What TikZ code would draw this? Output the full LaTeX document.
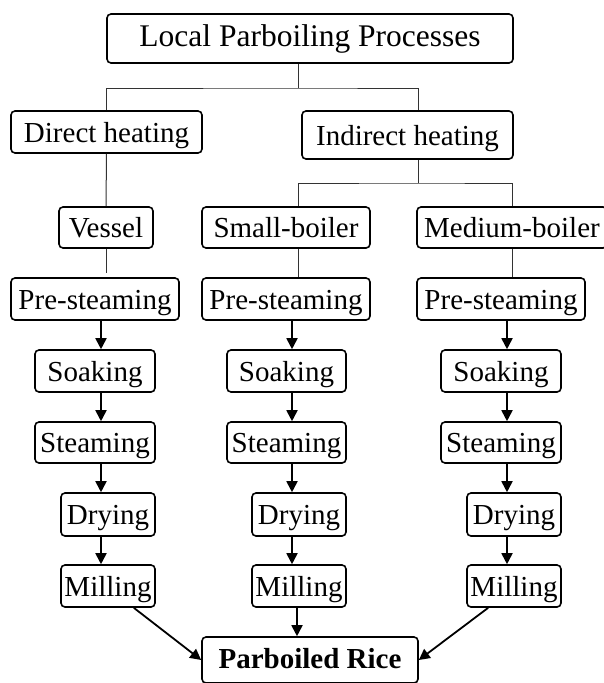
\documentclass[tikz,border=0pt]{standalone}
\usepackage{fontspec}
\setmainfont{Liberation Serif}
\usetikzlibrary{positioning, arrows.meta, calc}

\tikzset{
  proc/.style={draw, rounded corners=4pt, line width=1.6pt, inner sep=0pt,
    minimum height=42pt, text height=20pt, text depth=0pt,
    font=\fontsize{29}{34}\selectfont},
  link/.style={line width=1pt, draw=black!80},
  flow/.style={line width=1.8pt, -{Triangle[length=11pt,width=11pt]}},
}

\begin{document}
\begin{tikzpicture}[x=1pt,y=-1pt]
\useasboundingbox (0,0) rectangle (603,683);
\node[proc, minimum width=406pt, minimum height=49pt, text height=15pt, font=\fontsize{31.5}{36}\selectfont] (top) at (310,38.5) {Local Parboiling Processes};
\node[proc, minimum width=191pt] (direct) at (106.5,132) {Direct heating};
\node[proc, minimum width=211pt, minimum height=48pt] (indirect) at (407.5,135) {Indirect heating};
\node[proc, minimum width=94pt, minimum height=41pt] (vessel) at (106,227.5) {Vessel};
\node[proc, minimum width=168pt, minimum height=41pt] (small) at (286,227.5) {Small-boiler};
\node[proc, minimum width=190pt, minimum height=41pt] (medium) at (512,227.5) {Medium-boiler};
\node[proc, minimum width=168pt] (pre1) at (95,299) {Pre-steaming};
\node[proc, minimum width=168pt] (pre2) at (286,299) {Pre-steaming};
\node[proc, minimum width=168pt] (pre3) at (501,299) {Pre-steaming};
\node[proc, minimum width=120pt] (soak1) at (95,371) {Soaking};
\node[proc, minimum width=119pt] (soak2) at (286.5,371) {Soaking};
\node[proc, minimum width=120pt] (soak3) at (501,371) {Soaking};
\node[proc, minimum width=120pt, minimum height=41pt] (steam1) at (95,442.5) {Steaming};
\node[proc, minimum width=119pt, minimum height=41pt] (steam2) at (286.5,442.5) {Steaming};
\node[proc, minimum width=120pt, minimum height=41pt] (steam3) at (501,442.5) {Steaming};
\node[proc, minimum width=94pt, minimum height=43pt] (dry1) at (108,514.5) {Drying};
\node[proc, minimum width=94pt, minimum height=43pt] (dry2) at (299,514.5) {Drying};
\node[proc, minimum width=94pt, minimum height=43pt] (dry3) at (514,514.5) {Drying};
\node[proc, minimum width=94pt] (mill1) at (108,586) {Milling};
\node[proc, minimum width=94pt] (mill2) at (299,586) {Milling};
\node[proc, minimum width=94pt] (mill3) at (514,586) {Milling};
\node[proc, minimum width=216pt, minimum height=46pt, text height=16pt, font=\fontsize{29}{34}\selectfont\bfseries] (rice) at (310,660) {Parboiled Rice};

\coordinate (bar1) at (298,88);
\coordinate (bar2) at (418,183);
\coordinate (c1) at (101,0);
\coordinate (c2) at (292,0);
\coordinate (c3) at (507,0);

\draw[link] (top.south -| bar1) -- (bar1);
\draw[link] (direct.north) |- (bar1) -| (indirect.north -| bar2);
\draw[link] (indirect.south -| bar2) -- (bar2);
\draw[link] (small.north -| bar1) |- (bar2) -| (medium.north);
\draw[link] (direct.south) -- (vessel.north);
\draw[link, shorten >=4pt] (vessel.south) -- (vessel.south |- pre1.north);
\draw[link] (small.south -| bar1) -- (pre2.north -| bar1);
\draw[link] (medium.south) -- (medium.south |- pre3.north);

\foreach \a/\b in {pre/soak, soak/steam, steam/dry, dry/mill}
  \foreach \c in {1,2,3}
    \draw[flow] (\a\c.south -| c\c) -- (\b\c.north -| c\c);

\draw[flow] ([xshift=-22pt]mill1.south east) -- (rice.west);
\draw[flow] ([xshift=-2pt]mill2.south) -- ([xshift=-2pt]mill2.south |- rice.north);
\draw[flow] ([xshift=22pt]mill3.south west) -- (rice.east);
\end{tikzpicture}
\end{document}
